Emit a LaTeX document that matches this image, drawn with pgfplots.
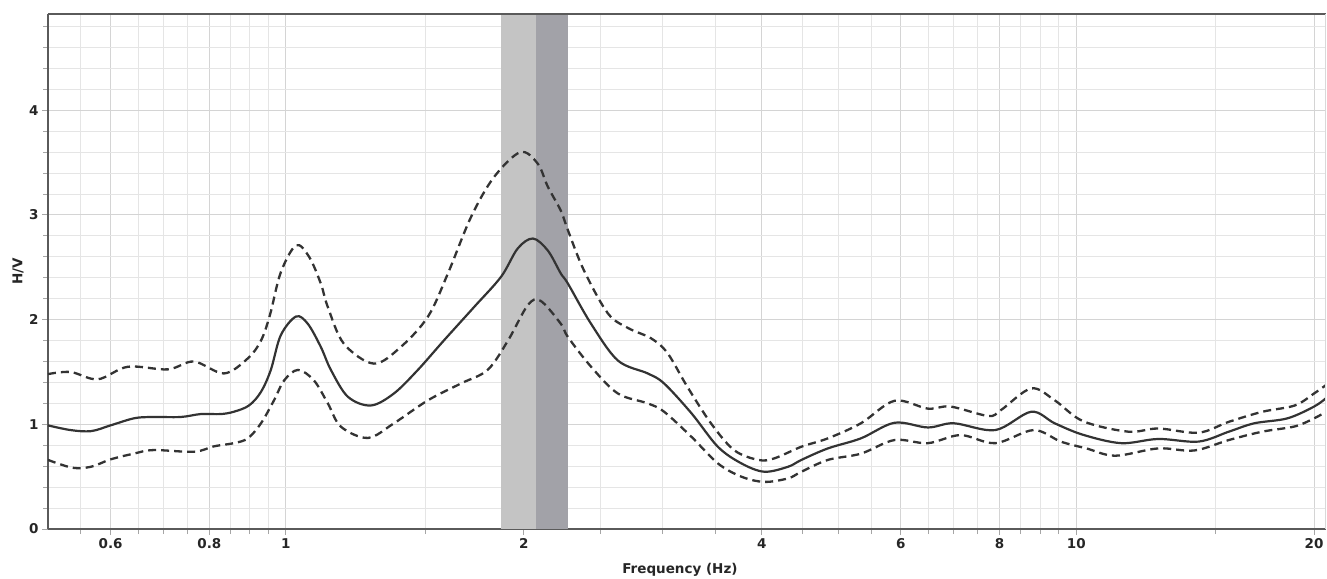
\documentclass[border=0pt]{standalone}
\usepackage{fontspec}
\setmainfont{DejaVu Sans}
\usepackage{pgfplots}
\pgfplotsset{compat=1.18}

\definecolor{bandlight}{HTML}{C4C4C4}
\definecolor{banddark}{HTML}{A2A2A8}
\definecolor{curve}{HTML}{333333}
\definecolor{frame}{HTML}{5A5A5A}

\begin{document}
\begin{tikzpicture}
\begin{axis}[
    scale only axis,
    width=1278pt, height=515pt,
    xmode=log, log basis x=10,
    xmin=0.5, xmax=20.7,
    ymin=0, ymax=4.92,
    axis lines=left,
    axis line style={-, draw=frame, line width=2.6pt},
    xtick={0.6,0.8,1,2,4,6,8,10,20},
    xticklabels={0.6,0.8,1,2,4,6,8,10,20},
    minor xtick={0.55,0.65,0.7,0.75,0.85,0.9,0.95,1.5,2.5,3,3.5,4.5,5,5.5,6.5,7,7.5,8.5,9,9.5,15},
    ytick={0,1,2,3,4},
    yticklabels={0,1,2,3,4},
    minor ytick={0.2,0.4,0.6,0.8,1.2,1.4,1.6,1.8,2.2,2.4,2.6,2.8,3.2,3.4,3.6,3.8,4.2,4.4,4.6,4.8},
    grid=both,
    major grid style={draw=black!17, line width=1pt},
    minor grid style={draw=black!10, line width=1pt},
    tick align=outside,
    major tick length=6pt, minor tick length=5pt,
    tick style={draw=black!35, line width=1pt},
    tick label style={font=\bfseries\fontsize{13.5}{15}\selectfont, text=black!85},
    xlabel={Frequency (Hz)},
    ylabel={H/V},
    label style={font=\bfseries\fontsize{13.5}{15}\selectfont, text=black!85},
    xlabel style={at={(axis description cs:0.4945,-0.0796)}, anchor=center},
    ylabel style={at={(axis description cs:-0.0235,0.5)}, anchor=center},
]
% shaded peak frequency bands
\addplot[draw=none, fill=bandlight] coordinates {(1.872,0)(2.073,0)(2.073,4.92)(1.872,4.92)} -- cycle;
\addplot[draw=none, fill=banddark] coordinates {(2.073,0)(2.275,0)(2.275,4.92)(2.073,4.92)} -- cycle;

% mean H/V
\addplot[curve, line width=2.2pt, smooth, tension=0.55] coordinates {
(0.5,0.99)(0.534,0.945)(0.567,0.935)(0.6,0.99)(0.642,1.057)(0.675,1.07)(0.736,1.07)(0.78,1.098)
(0.827,1.098)(0.859,1.12)(0.898,1.18)(0.93,1.31)(0.957,1.52)(0.985,1.85)(1.03,2.03)(1.066,1.96)
(1.107,1.74)(1.14,1.52)(1.198,1.263)(1.281,1.18)(1.37,1.295)(1.469,1.52)(1.584,1.80)(1.73,2.12)
(1.872,2.41)(1.965,2.68)(2.054,2.775)(2.145,2.66)(2.228,2.44)(2.274,2.345)(2.433,1.96)(2.63,1.61)
(2.87,1.486)(3.01,1.39)(3.26,1.105)(3.52,0.786)(3.77,0.627)(4.03,0.547)(4.32,0.595)(4.49,0.66)
(4.85,0.77)(5.34,0.866)(5.89,1.015)(6.49,0.97)(7.0,1.01)(7.9,0.945)(8.77,1.12)(9.39,1.01)
(10.2,0.9)(11.4,0.82)(12.7,0.86)(14.28,0.835)(15.6,0.93)(16.8,1.01)(18.5,1.057)(20,1.17)(20.7,1.25)
};

% mean + std
\addplot[curve, line width=2.3pt, dash pattern=on 8pt off 5pt, smooth, tension=0.55] coordinates {
(0.5,1.48)(0.534,1.50)(0.578,1.43)(0.631,1.55)(0.709,1.525)(0.765,1.60)(0.835,1.486)(0.895,1.63)
(0.93,1.80)(0.955,2.05)(0.985,2.45)(1.03,2.71)(1.07,2.6)(1.107,2.345)(1.13,2.12)(1.184,1.77)
(1.292,1.58)(1.398,1.74)(1.513,2.03)(1.603,2.44)(1.715,2.98)(1.833,3.36)(1.98,3.60)(2.083,3.49)
(2.145,3.27)(2.228,3.04)(2.274,2.855)(2.383,2.47)(2.555,2.06)(2.71,1.92)(2.9,1.82)(3.04,1.68)
(3.22,1.36)(3.45,1.01)(3.69,0.754)(3.96,0.66)(4.15,0.675)(4.49,0.786)(4.85,0.866)(5.34,1.01)
(5.89,1.225)(6.49,1.15)(6.93,1.17)(7.74,1.08)(8.03,1.136)(8.77,1.343)(9.39,1.23)(10.2,1.03)
(11.63,0.93)(12.7,0.96)(14.28,0.92)(15.6,1.024)(17.2,1.12)(18.9,1.18)(20,1.295)(20.7,1.375)
};

% mean - std
\addplot[curve, line width=2.3pt, dash pattern=on 8pt off 5pt, smooth, tension=0.55] coordinates {
(0.5,0.66)(0.537,0.585)(0.567,0.595)(0.6,0.665)(0.642,0.72)(0.68,0.754)(0.765,0.738)(0.811,0.79)
(0.859,0.82)(0.895,0.866)(0.93,1.01)(0.966,1.23)(0.995,1.42)(1.036,1.52)(1.085,1.42)(1.13,1.20)
(1.174,0.977)(1.27,0.87)(1.37,1.01)(1.513,1.23)(1.665,1.39)(1.8,1.52)(1.91,1.80)(2.024,2.14)
(2.1,2.18)(2.228,1.96)(2.274,1.835)(2.433,1.55)(2.63,1.295)(2.87,1.20)(3.01,1.12)(3.26,0.88)
(3.52,0.627)(3.77,0.50)(4.03,0.45)(4.32,0.484)(4.49,0.547)(4.85,0.66)(5.34,0.72)(5.89,0.85)
(6.49,0.82)(7.14,0.897)(7.9,0.82)(8.83,0.945)(9.56,0.835)(10.3,0.77)(11.2,0.70)(12.7,0.77)
(14.1,0.75)(15.6,0.85)(17.2,0.93)(18.9,0.98)(20,1.057)(20.7,1.12)
};

\draw[frame, line width=2.6pt] (rel axis cs:0,1) -- (rel axis cs:1,1);
\draw[black!15, line width=1.2pt] (rel axis cs:1,0) -- (rel axis cs:1,1);
\end{axis}
\pgfresetboundingbox
\path (-48pt,-49pt) rectangle (1279pt,529pt);
\end{tikzpicture}
\end{document}
